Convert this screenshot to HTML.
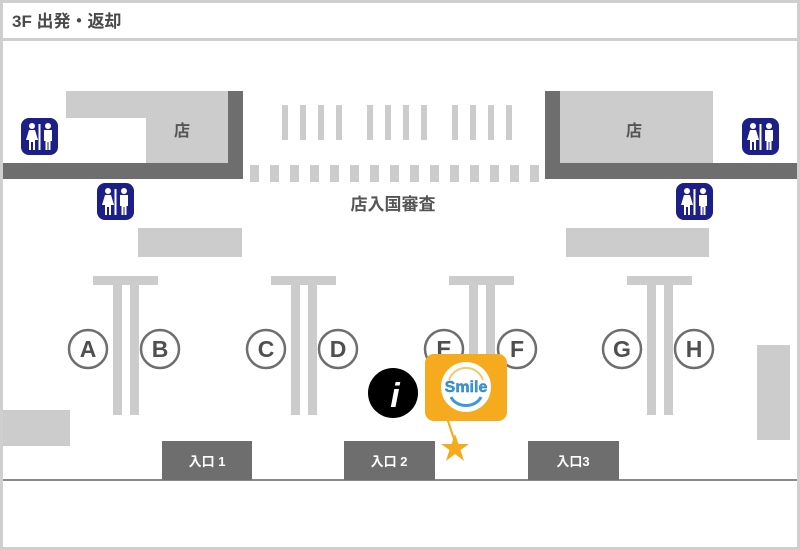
<!DOCTYPE html>
<html><head><meta charset="utf-8"><style>
html,body{margin:0;padding:0;background:#fff}
svg{display:block}
text{font-family:"Liberation Sans","Noto Sans CJK JP",sans-serif;font-weight:bold}
</style></head><body>
<svg width="800" height="550" viewBox="0 0 800 550" xmlns="http://www.w3.org/2000/svg">
<defs>
<g id="wc">
<rect x="0" y="0" width="37" height="37" rx="8" fill="#1c1f86"/>
<circle cx="11" cy="8" r="3" fill="#fff"/>
<path d="M8 12 h6 l3 10 h-3 v10 h-2 v-8 h-2 v8 h-2 v-10 h-3z" fill="#fff"/>
<rect x="17.5" y="6" width="2" height="26" fill="#fff"/>
<circle cx="27" cy="8" r="3" fill="#fff"/>
<path d="M23 12 h8 v11 h-1.5 v9 h-2 v-8 h-1 v8 h-2 v-9 h-1.5z" fill="#fff"/>
</g>
<g id="tee">
<rect x="0" y="0" width="65" height="9" fill="#cccccc"/>
<rect x="20" y="9" width="9" height="130" fill="#cccccc"/>
<rect x="37" y="9" width="9" height="130" fill="#cccccc"/>
</g>
</defs>
<rect x="0" y="0" width="800" height="550" fill="#cfcfcf"/>
<rect x="3" y="3" width="794" height="544" fill="#fff"/>
<rect x="3" y="38" width="794" height="3" fill="#cfcfcf"/>
<text x="12" y="27" font-size="17" fill="#4a4a4a">3F 出発・返却</text>

<rect x="66" y="91" width="170" height="27" fill="#cccccc"/>
<rect x="146" y="91" width="90" height="72" fill="#cccccc"/>
<rect x="228" y="91" width="15" height="88" fill="#6f6e6f"/>
<rect x="3" y="163" width="240" height="16" fill="#6f6e6f"/>
<text x="182" y="136" font-size="16" fill="#555" text-anchor="middle">店</text>
<rect x="545" y="91" width="168" height="72" fill="#cccccc"/>
<rect x="545" y="91" width="15" height="88" fill="#6f6e6f"/>
<rect x="545" y="163" width="252" height="16" fill="#6f6e6f"/>
<text x="634" y="136" font-size="16" fill="#555" text-anchor="middle">店</text>

<g fill="#cccccc">
<rect x="282" y="105" width="6" height="35"/><rect x="300" y="105" width="6" height="35"/><rect x="318" y="105" width="6" height="35"/><rect x="336" y="105" width="6" height="35"/>
<rect x="367" y="105" width="6" height="35"/><rect x="385" y="105" width="6" height="35"/><rect x="403" y="105" width="6" height="35"/><rect x="421" y="105" width="6" height="35"/>
<rect x="452" y="105" width="6" height="35"/><rect x="470" y="105" width="6" height="35"/><rect x="488" y="105" width="6" height="35"/><rect x="506" y="105" width="6" height="35"/>
</g>
<g fill="#cccccc">
<rect x="250" y="165" width="9" height="17"/><rect x="270" y="165" width="9" height="17"/><rect x="290" y="165" width="9" height="17"/><rect x="310" y="165" width="9" height="17"/><rect x="330" y="165" width="9" height="17"/><rect x="350" y="165" width="9" height="17"/><rect x="370" y="165" width="9" height="17"/><rect x="390" y="165" width="9" height="17"/><rect x="410" y="165" width="9" height="17"/><rect x="430" y="165" width="9" height="17"/><rect x="450" y="165" width="9" height="17"/><rect x="470" y="165" width="9" height="17"/><rect x="490" y="165" width="9" height="17"/><rect x="510" y="165" width="9" height="17"/><rect x="530" y="165" width="9" height="17"/>
</g>
<text x="393" y="210" font-size="17" fill="#555" text-anchor="middle">店入国審査</text>

<use href="#wc" x="21" y="118"/>
<use href="#wc" x="97" y="183"/>
<use href="#wc" x="742" y="118"/>
<use href="#wc" x="676" y="183"/>

<rect x="138" y="228" width="104" height="29" fill="#cccccc"/>
<rect x="566" y="228" width="143" height="29" fill="#cccccc"/>

<use href="#tee" x="93" y="276"/>
<use href="#tee" x="271" y="276"/>
<use href="#tee" x="449" y="276"/>
<use href="#tee" x="627" y="276"/>

<rect x="3" y="410" width="67" height="36" fill="#cccccc"/>
<rect x="757" y="345" width="33" height="95" fill="#cccccc"/>

<g fill="#fff" stroke="#6f6e6f" stroke-width="2.5">
<circle cx="88" cy="349" r="19"/><circle cx="160" cy="349" r="19"/>
<circle cx="266" cy="349" r="19"/><circle cx="338" cy="349" r="19"/>
<circle cx="444" cy="349" r="19"/><circle cx="517" cy="349" r="19"/>
<circle cx="622" cy="349" r="19"/><circle cx="694" cy="349" r="19"/>
</g>
<g font-size="23" fill="#4f4f4f" text-anchor="middle">
<text x="88" y="357">A</text><text x="160" y="357">B</text>
<text x="266" y="357">C</text><text x="338" y="357">D</text>
<text x="444" y="357">E</text><text x="517" y="357">F</text>
<text x="622" y="357">G</text><text x="694" y="357">H</text>
</g>

<rect x="3" y="479" width="794" height="2" fill="#8a8a8a"/>
<rect x="162" y="441" width="90" height="39" fill="#6f6e6f"/>
<rect x="344" y="441" width="91" height="39" fill="#6f6e6f"/>
<rect x="528" y="441" width="91" height="39" fill="#6f6e6f"/>
<g font-size="13" fill="#fff" text-anchor="middle">
<text x="207" y="466">入口 1</text><text x="389" y="466">入口 2</text><text x="573" y="466">入口3</text>
</g>

<circle cx="393" cy="393" r="25" fill="#000"/>
<text x="395" y="407" font-size="34" fill="#fff" text-anchor="middle" font-family="Liberation Serif" font-style="italic">i</text>

<line x1="447" y1="418" x2="455" y2="442" stroke="#f5a81c" stroke-width="2"/>
<rect x="425" y="354" width="82" height="67" rx="9" fill="#f5ab1d"/>
<circle cx="466" cy="387" r="25" fill="#fff"/>
<path d="M449 380 A18 18 0 0 1 483 380" fill="none" stroke="#f5c86a" stroke-width="2"/>
<path d="M451 397 A16 13 0 0 0 481 397" fill="none" stroke="#3a9ad9" stroke-width="3"/>
<text x="466" y="392" font-size="16" fill="#3a9ad9" text-anchor="middle" stroke="#1f6fb0" stroke-width="0.4">Smile</text>
<polygon points="455,434 458.5,444 469,444 460.5,450 464,461 455,454 446,461 449.5,450 441,444 451.5,444" fill="#f5ab1d"/>
</svg>
</body></html>
